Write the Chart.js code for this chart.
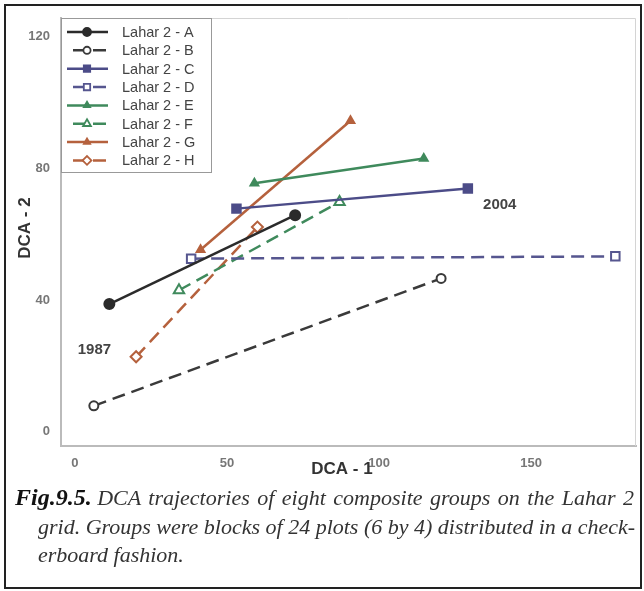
<!DOCTYPE html>
<html>
<head>
<meta charset="utf-8">
<script src="https://cdn.jsdelivr.net/npm/chart.js@4.4.1/dist/chart.umd.min.js"></script>
<style>
  body { margin: 0; background: #fff; }
  #frame { position: absolute; left: 4px; top: 4px; width: 634px; height: 581px; border: 2px solid #222; }
  #wrap { position: absolute; left: 0; top: 0; width: 644px; height: 480px; }
  #caption { position: absolute; left: 15px; top: 483px; width: 640px; white-space: nowrap; font-family: "Liberation Serif", serif; font-style: italic; font-size: 22px; line-height: 28.5px; color: #333; }
  #caption .fig { font-weight: bold; font-size: 24px; color: #111; }
  #caption .first { word-spacing: 2px; }
  #caption .ind { padding-left: 23px; display: block; }
</style>
</head>
<body>
<div id="wrap"><canvas id="dca" width="644" height="480"></canvas></div>
<div id="frame"></div>
<div id="caption"><span class="fig">Fig.9.5.</span> <span class="first">DCA trajectories of eight composite groups on the Lahar 2</span><span class="ind">grid. Groups were blocks of 24 plots (6 by 4) distributed in a check-</span><span class="ind">erboard fashion.</span></div>
<script>
const groups = ['Lahar 2 - A', 'Lahar 2 - B', 'Lahar 2 - C', 'Lahar 2 - D',
                'Lahar 2 - E', 'Lahar 2 - F', 'Lahar 2 - G', 'Lahar 2 - H'];
// 1987 position (start) and 2004 position (end) on DCA axes 1 and 2
const startX = [11.3, 6.2, 53.1, 38.2, 59.0, 34.2, 41.3, 20.1];
const startY = [38.8, 7.9, 67.8, 52.6, 75.5, 43.0, 55.3, 22.8];
const endX = [72.4, 120.4, 129.2, 177.7, 114.7, 87.0, 90.6, 60.0];
const endY = [65.8, 46.6, 73.9, 53.3, 83.0, 69.8, 94.5, 62.2];
const xTicks = [0, 50, 100, 150];
const yTicks = [0, 40, 80, 120];

const colors = ['#2b2b2b', '#3a3a3a', '#4c4c88', '#56568f', '#3f8a5c', '#3f8a5c', '#b5613d', '#b5613d'];
const styles = ['circle', 'circle', 'rect', 'rect', 'triangle', 'triangle', 'triangle', 'rectRot'];
const filled = [true, false, true, false, true, false, true, false];
const radii = [5, 4.5, 6, 6, 4.5, 6, 4.5, 5.5];
const dashed = [false, true, false, true, false, true, false, true];

const datasets = groups.map((g, i) => ({
  label: g,
  data: [{ x: startX[i], y: startY[i] }, { x: endX[i], y: endY[i] }],
  showLine: true,
  borderColor: colors[i],
  borderWidth: 2.5,
  borderDash: dashed[i] ? [13, 7] : [],
  pointStyle: styles[i],
  pointRadius: radii[i],
  pointBorderWidth: 2,
  pointBorderColor: colors[i],
  pointBackgroundColor: filled[i] ? colors[i] : '#fff'
}));

const extras = {
  id: 'extras',
  beforeDatasetsDraw(chart) {
    const { ctx, chartArea: a } = chart;
    ctx.save();
    ctx.strokeStyle = '#d4d4d4';
    ctx.lineWidth = 1;
    ctx.beginPath();
    ctx.moveTo(a.left, a.top + 0.5);
    ctx.lineTo(a.right - 0.5, a.top + 0.5);
    ctx.lineTo(a.right - 0.5, a.bottom);
    ctx.stroke();
    ctx.restore();
  },
  afterDraw(chart) {
    const { ctx, chartArea: a, scales } = chart;
    ctx.save();
    // axis titles
    ctx.fillStyle = '#333';
    ctx.font = 'bold 17px "Liberation Sans", Arial, sans-serif';
    ctx.textAlign = 'center';
    ctx.textBaseline = 'middle';
    ctx.fillText('DCA - 1', 342, a.bottom + 23);
    ctx.save();
    ctx.translate(a.left - 36, 228);
    ctx.rotate(-Math.PI / 2);
    ctx.fillText('DCA - 2', 0, 0);
    ctx.restore();
    // year labels
    ctx.fillStyle = '#444';
    ctx.font = 'bold 15px "Liberation Sans", Arial, sans-serif';
    ctx.fillText('1987', scales.x.getPixelForValue(6.4), scales.y.getPixelForValue(24.8));
    ctx.fillText('2004', scales.x.getPixelForValue(139.7), scales.y.getPixelForValue(68.8));

    // legend inside plot
    const lx = a.left, ly = a.top, lw = 150, lh = 154;
    ctx.fillStyle = '#fff';
    ctx.fillRect(lx, ly, lw, lh);
    ctx.strokeStyle = '#999';
    ctx.lineWidth = 1;
    ctx.strokeRect(lx + 0.5, ly + 0.5, lw, lh);
    ctx.font = '14.5px "Liberation Sans", Arial, sans-serif';
    ctx.textAlign = 'left';
    chart.data.datasets.forEach((ds, i) => {
      const y = ly + 14 + i * 18.35;
      ctx.strokeStyle = ds.borderColor;
      ctx.lineWidth = 2.5;
      ctx.setLineDash(ds.borderDash);
      ctx.lineDashOffset = -6;
      ctx.beginPath();
      ctx.moveTo(lx + 6, y);
      ctx.lineTo(lx + 47, y);
      ctx.stroke();
      ctx.setLineDash([]);
      ctx.fillStyle = ds.pointBackgroundColor;
      ctx.strokeStyle = ds.pointBorderColor;
      ctx.lineWidth = 1.8;
      Chart.helpers.drawPoint(ctx, {
        pointStyle: ds.pointStyle, radius: Math.min(ds.pointRadius * 0.8, 4.5), rotation: 0, borderWidth: 1.8
      }, lx + 26, y);
      ctx.fillStyle = '#444';
      ctx.fillText(ds.label, lx + 61, y + 1);
    });
    ctx.restore();
  }
};

new Chart(document.getElementById('dca'), {
  type: 'scatter',
  data: { datasets },
  plugins: [extras],
  options: {
    responsive: false,
    animation: false,
    layout: { padding: { top: 18, right: 4, left: 0, bottom: 0 } },
    plugins: { legend: { display: false }, tooltip: { enabled: false } },
    scales: {
      x: {
        type: 'linear', min: -4.6, max: 184.5,
        grid: { display: false },
        border: { color: '#bbb', width: 2 },
        ticks: { color: '#777', padding: 2, font: { size: 13, weight: 'bold', family: '"Liberation Sans", Arial' } },
        afterBuildTicks: s => { s.ticks = xTicks.map(v => ({ value: v })); },
        afterFit: s => { s.height = 34; }
      },
      y: {
        type: 'linear', min: -4.3, max: 125.7,
        grid: { display: false },
        border: { color: '#bbb', width: 2 },
        ticks: { color: '#777', padding: 3, font: { size: 13, weight: 'bold', family: '"Liberation Sans", Arial' } },
        afterBuildTicks: s => { s.ticks = yTicks.map(v => ({ value: v })); },
        afterFit: s => { s.width = 61; }
      }
    }
  }
});
</script>
</body>
</html>
